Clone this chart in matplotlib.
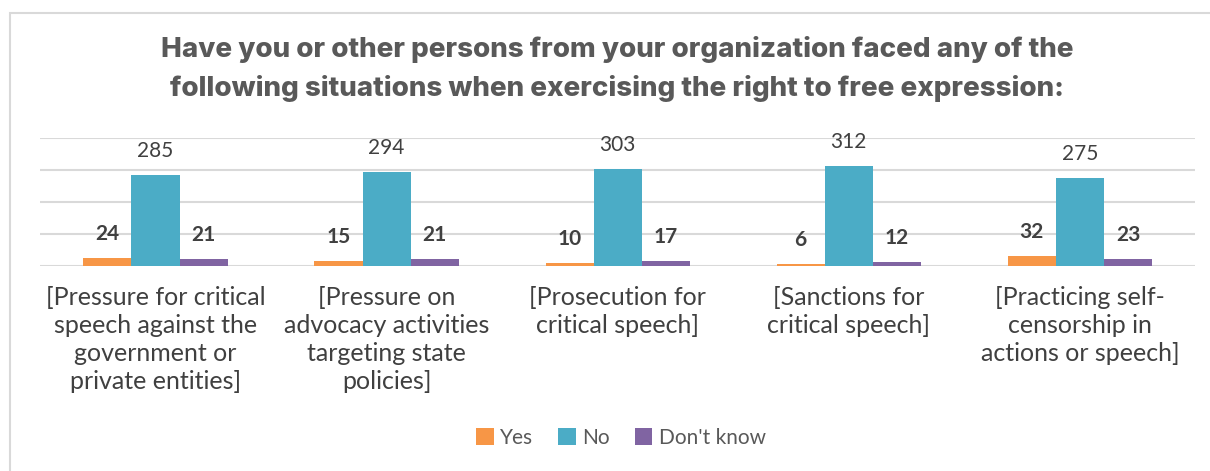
import numpy as np
import matplotlib.pyplot as plt
from matplotlib.patches import Rectangle, Patch

# Datos
categorias = ["[Pressure for critical\nspeech against the\ngovernment or\nprivate entities]",
              "[Pressure on\nadvocacy activities\ntargeting state\npolicies]",
              "[Prosecution for\ncritical speech]",
              "[Sanctions for\ncritical speech]",
              "[Practicing self-\ncensorship in\nactions or speech]"]
yes = [24, 15, 10, 6, 32]
no = [285, 294, 303, 312, 275]
dont_know = [21, 21, 17, 12, 23]
series_names = ["Yes", "No", "Don't know"]
colores = ["#F79646", "#4BACC6", "#8064A2"]

fig = plt.figure(figsize=(12.1, 4.71), dpi=100)
ax = fig.add_axes([0.033, 0.435, 0.955, 0.272])

# Marco exterior
fig.patches.append(Rectangle((10 / 1210, -0.05), 1.1, 1 - 13 / 471 + 0.05,
                             transform=fig.transFigure, fill=False,
                             edgecolor="#D9D9D9", lw=1.5))

x = np.arange(len(categorias))
w = 0.208
texto = "#404040"
for i, (vals, col, name) in enumerate(zip([yes, no, dont_know], colores, series_names)):
    bars = ax.bar(x + (i - 1) * w, vals, w, color=col, label=name, zorder=3)
    for b, v in zip(bars, vals):
        ax.annotate(str(v), (b.get_x() + b.get_width() / 2, v),
                    xytext=(0, 24), textcoords="offset pixels",
                    ha="center", va="center", fontsize=15, family="Lato",
                    fontweight="normal" if name == "No" else "bold", color=texto)

ax.set_ylim(0, 400)
ax.set_xlim(-0.5, 4.5)
ax.set_yticks([0, 100, 200, 300, 400])
ax.yaxis.grid(True, color="#D9D9D9", lw=1.5, zorder=0)
ax.tick_params(left=False, labelleft=False, bottom=False)
for s in ax.spines.values():
    s.set_visible(False)
ax.set_xticks(x)
ax.set_xticklabels(categorias, fontsize=18, family="Lato", color=texto,
                   linespacing=1.25, va="top")
ax.tick_params(axis="x", pad=11)

fig.text(0.51, 1 - 69 / 471,
         "Have you or other persons from your organization faced any of the\n"
         "following situations when exercising the right to free expression:",
         ha="center", va="center", fontsize=20, fontweight="heavy", family="Inter",
         color="#595959", linespacing=1.55)

handles = [Patch(facecolor=c, label=n) for c, n in zip(colores, series_names)]
fig.legend(handles=handles, loc="center", bbox_to_anchor=(0.513, 1 - 438 / 471),
           ncol=3, frameon=False, prop={"family": "Lato", "size": 15},
           handlelength=0.85, handleheight=0.85, handletextpad=0.3, columnspacing=1.2,
           labelcolor="#595959")

fig.savefig("out.png", dpi=100)
